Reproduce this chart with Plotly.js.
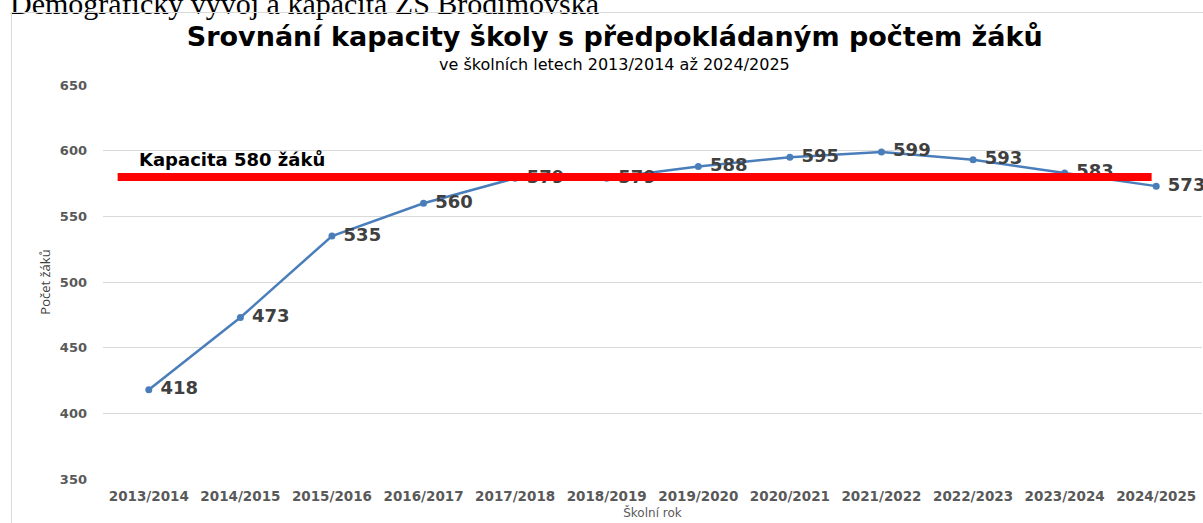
<!DOCTYPE html>
<html>
<head>
<meta charset="utf-8">
<script src="https://cdn.plot.ly/plotly-3.0.1.min.js"></script>
<style>
  html, body { margin: 0; padding: 0; background: #ffffff; overflow: hidden; }
  #doc-heading {
    position: absolute; left: 10px; top: -11px; margin: 0;
    font-family: "Liberation Serif", "Times New Roman", serif;
    font-size: 30px; line-height: 30px; color: #000; white-space: nowrap;
  }
  #frame {
    position: absolute; left: 11px; top: 12px; width: 1400px; height: 700px;
    border-left: 1px solid #d9d9d9; border-top: 1px solid #d9d9d9;
    pointer-events: none;
  }
  #chart { position: absolute; left: 0; top: 0; width: 1203px; height: 523px; }
</style>
</head>
<body>
<div id="doc-heading">Demografický vývoj a kapacita ZŠ Brodimovská</div>
<div id="frame"></div>
<div id="chart"></div>
<script>
// ---- data ----
const schoolYears = ["2013/2014","2014/2015","2015/2016","2016/2017","2017/2018","2018/2019",
                     "2019/2020","2020/2021","2021/2022","2022/2023","2023/2024","2024/2025"];
const pupils = [418, 473, 535, 560, 579, 579, 588, 595, 599, 593, 583, 573];
const capacity = 580;
const yTicks = [350, 400, 450, 500, 550, 600, 650];

const chartTitle = "Srovnání kapacity školy s předpokládaným počtem žáků";
const chartSubtitle = "ve školních letech 2013/2014 až 2024/2025";
const xTitle = "Školní rok";
const yTitle = "Počet žáků";
const capacityLabel = "Kapacita " + capacity + " žáků";

const trace = {
  type: "scatter",
  mode: "lines+markers+text",
  x: schoolYears,
  y: pupils,
  text: pupils.map(v => "\u00a0" + v),
  textposition: "middle right",
  textfont: { family: "DejaVu Sans", size: 18, color: "#404040", weight: "bold" },
  line: { color: "#4a7ebb", width: 2.5 },
  marker: { color: "#4a7ebb", size: 7 },
  cliponaxis: false,
  hoverinfo: "x+y"
};

const layout = {
  width: 1203, height: 523,
  margin: { l: 103, r: 1, t: 85, b: 44 },
  paper_bgcolor: "rgba(0,0,0,0)",
  plot_bgcolor: "rgba(0,0,0,0)",
  showlegend: false,
  title: {
    text: "<b>" + chartTitle + "</b>",
    font: { family: "DejaVu Sans", size: 27, color: "#000000" },
    x: 0.511, xanchor: "center",
    y: 1 - 37 / 523, yanchor: "middle", yref: "container"
  },
  xaxis: {
    type: "category",
    range: [-0.5, 11.5],
    showgrid: false, zeroline: false, showline: false,
    ticks: "",
    tickfont: { family: "DejaVu Sans", size: 13.5, color: "#595959", weight: "bold" },
    ticklabelstandoff: 7,
    title: { text: xTitle, font: { family: "DejaVu Sans", size: 12, color: "#595959" }, standoff: 6 }
  },
  yaxis: {
    range: [350, 650],
    tickvals: yTicks,
    showgrid: true, gridcolor: "#d9d9d9", gridwidth: 1,
    zeroline: false, showline: false, ticks: "",
    tickfont: { family: "DejaVu Sans", size: 13, color: "#595959", weight: "bold" },
    ticklabelstandoff: 15,
    title: { text: yTitle, font: { family: "Open Sans", size: 13, color: "#404040" }, standoff: 6 }
  },
  shapes: [{
    type: "line", layer: "above",
    xref: "x", yref: "y",
    x0: -0.34, x1: 10.95, y0: capacity, y1: capacity,
    line: { color: "#ff0000", width: 8 }
  }],
  annotations: [
    {
      text: chartSubtitle, showarrow: false,
      xref: "paper", yref: "paper", x: 0.465, y: (479 - 64) / 394,
      xanchor: "center", yanchor: "middle",
      font: { family: "DejaVu Sans", size: 16, color: "#000000" }
    },
    {
      text: "<b>" + capacityLabel + "</b>", showarrow: false,
      xref: "x", yref: "y", x: -0.13, y: capacity,
      xanchor: "left", yanchor: "middle", yshift: 17,
      font: { family: "DejaVu Sans", size: 18, color: "#000000" }
    }
  ]
};

Plotly.newPlot("chart", [trace], layout, { displayModeBar: false, staticPlot: true });
</script>
</body>
</html>
